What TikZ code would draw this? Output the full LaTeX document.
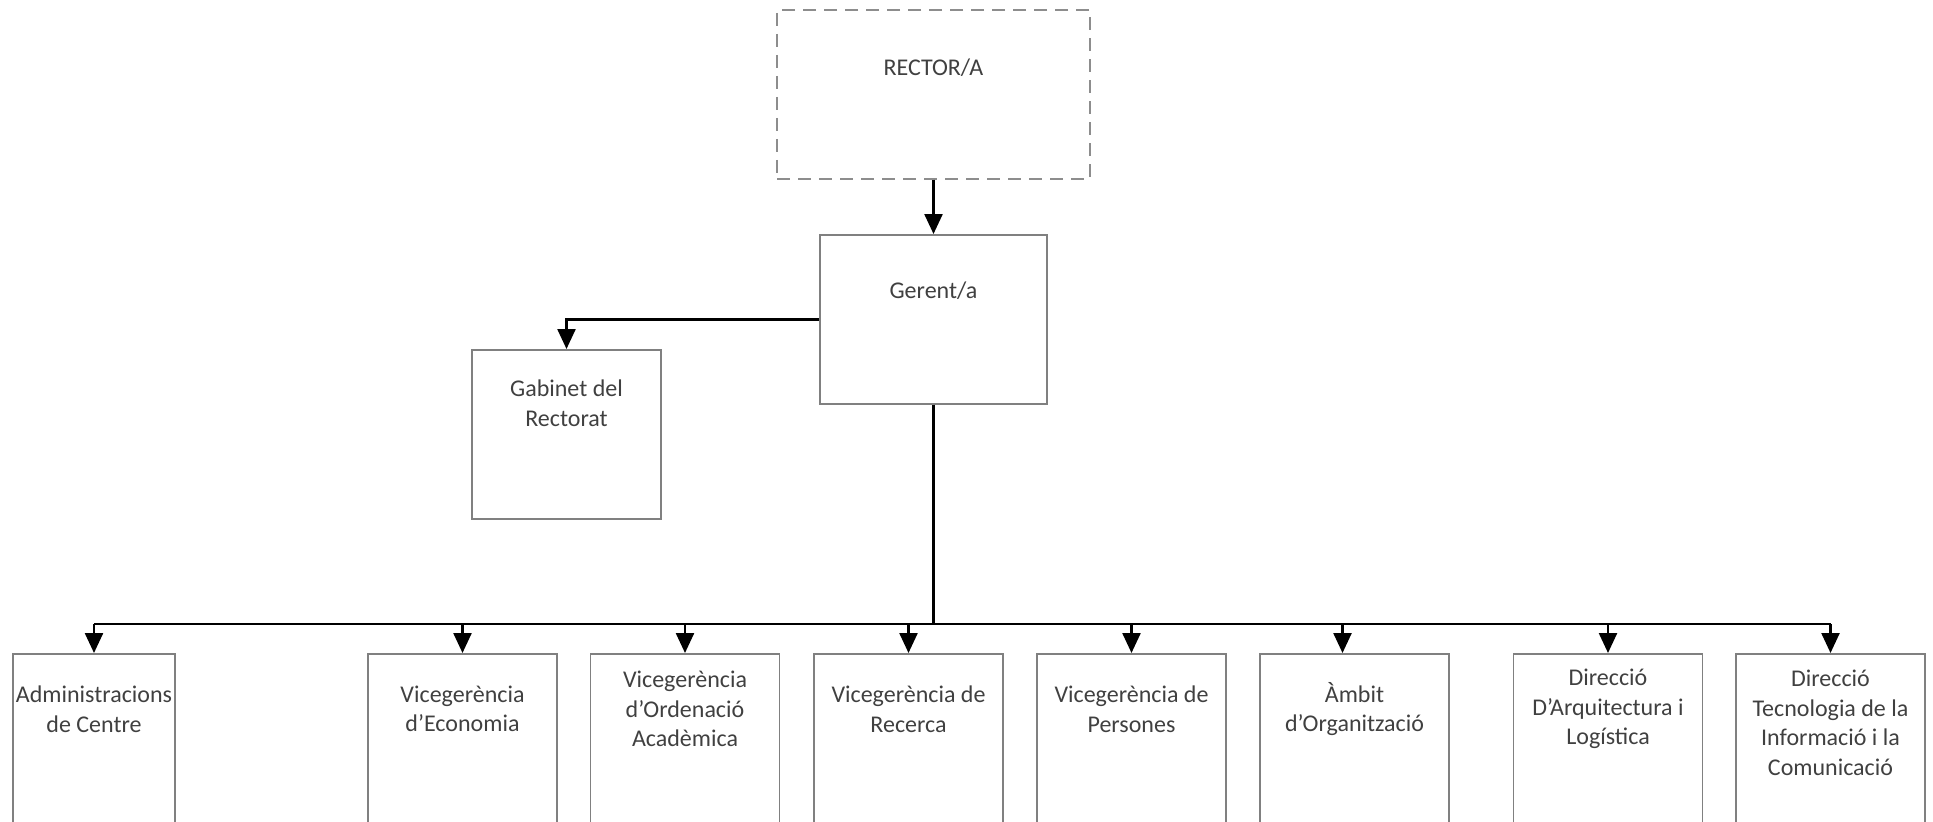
\documentclass[tikz,border=0pt]{standalone}
\usepackage{fontspec}
\setmainfont{Carlito}
\usetikzlibrary{arrows.meta}
\definecolor{boxgray}{HTML}{808080}
\definecolor{txtgray}{HTML}{404040}
\tikzset{
	box/.style={draw=boxgray, line width=0.8pt, anchor=north, inner sep=0pt, minimum height=84.5pt},
	dashbox/.style={box, draw=boxgray!90, dash pattern=on 6.5pt off 4pt},
	unit/.style={box, minimum width=94.5pt, minimum height=86pt},
	lbl/.style={text=txtgray, align=center, inner sep=0pt, font=\fontsize{12}{14.8}\selectfont},
	link/.style={line width=1pt},
	trunk/.style={line width=1.75pt},
	arr/.style={line width=1.2pt, -{Triangle[length=10pt,width=9pt]}}
}
\begin{document}
\begin{tikzpicture}[x=0.5pt, y=0.5pt]
		\useasboundingbox (0,0) rectangle (1933,-821);

		\node[dashbox, minimum width=156.5pt] (rector) at (933.5,-9) {};
		\node[box, minimum width=113.5pt] (gerent) at (933.5,-234) {};
		\node[box, minimum width=94.5pt] (gabinet) at (566.5,-349) {};

		\node[unit, minimum width=81pt] (admin) at (94,-653) {};
		\node[unit] (econ) at (462.5,-653) {};
		\node[unit] (orden) at (685,-653) {};
		\node[unit] (recerca) at (908.5,-653) {};
		\node[unit] (persones) at (1131.5,-653) {};
		\node[unit] (ambit) at (1354.5,-653) {};
		\node[unit] (arquit) at (1608,-653) {};
		\node[unit] (tecno) at (1830.5,-653) {};

		\node[lbl] (rector-t) at ([yshift=-29.5pt]rector.north) {RECTOR/A};
		\node[lbl] (gerent-t) at ([yshift=-28.5pt]gerent.north) {Gerent/a};
		\node[lbl] (gabinet-t) at ([yshift=-27pt]gabinet.north) {Gabinet del\\Rectorat};
		\node[lbl] (admin-t) at ([yshift=-28pt]admin.north) {Administracions\\de Centre};
		\node[lbl] (econ-t) at ([yshift=-28pt]econ.north) {Vicegerència\\d’Economia};
		\node[lbl] (orden-t) at ([yshift=-28pt]orden.north) {Vicegerència\\d’Ordenació\\Acadèmica};
		\node[lbl] (recerca-t) at ([yshift=-28pt]recerca.north) {Vicegerència de\\Recerca};
		\node[lbl] (persones-t) at ([yshift=-28pt]persones.north) {Vicegerència de\\Persones};
		\node[lbl] (ambit-t) at ([yshift=-28pt]ambit.north) {Àmbit\\d’Organització};
		\node[lbl] (arquit-t) at ([yshift=-28pt]arquit.north) {Direcció\\D’Arquitectura i\\Logística};
		\node[lbl] (tecno-t) at ([yshift=-35pt]tecno.north) {Direcció\\Tecnologia de la\\Informació i la\\Comunicació};

		\coordinate (bus) at (933.5,-624);
		\coordinate (ambit-x) at ([xshift=-6pt]ambit.north);

		\draw[arr] (rector.south) -- (gerent.north);
		\draw[arr] (gerent.west) -| (gabinet.north);
		\draw[trunk] (gerent.south) -- (bus);
		\draw[link] (bus -| admin.north) -- (bus -| tecno.north);
		\foreach \n in {admin,econ,orden,recerca,persones,arquit,tecno}
			\draw[arr] (bus -| \n.north) -- (\n.north);
		\draw[arr] (bus -| ambit-x) -- (ambit-x);
	\end{tikzpicture}
\end{document}
